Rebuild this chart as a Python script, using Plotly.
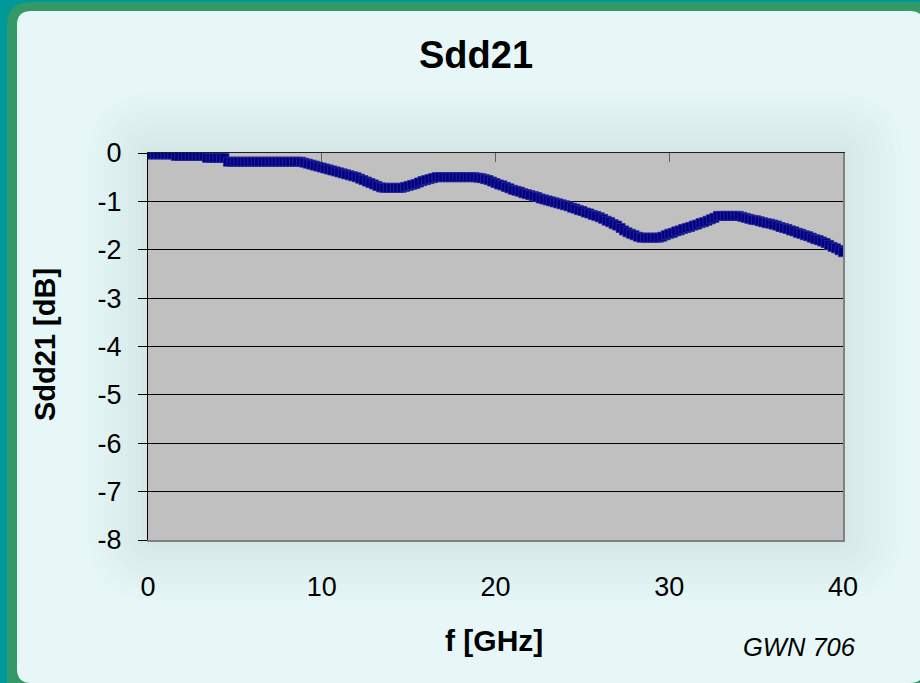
import plotly.graph_objects as go

# ---------------- data ----------------
freq_ghz = [
    0.0, 0.2, 0.4, 0.6, 0.8, 1.0, 1.2, 1.4, 1.6, 1.8,
    2.0, 2.2, 2.4, 2.6, 2.8, 3.0, 3.2, 3.4, 3.6, 3.8,
    4.0, 4.2, 4.4, 4.6, 4.8, 5.0, 5.2, 5.4, 5.6, 5.8,
    6.0, 6.2, 6.4, 6.6, 6.8, 7.0, 7.2, 7.4, 7.6, 7.8,
    8.0, 8.2, 8.4, 8.6, 8.8, 9.0, 9.2, 9.4, 9.6, 9.8,
    10.0, 10.2, 10.4, 10.6, 10.8, 11.0, 11.2, 11.4, 11.6, 11.8,
    12.0, 12.2, 12.4, 12.6, 12.8, 13.0, 13.2, 13.4, 13.6, 13.8,
    14.0, 14.2, 14.4, 14.6, 14.8, 15.0, 15.2, 15.4, 15.6, 15.8,
    16.0, 16.2, 16.4, 16.6, 16.8, 17.0, 17.2, 17.4, 17.6, 17.8,
    18.0, 18.2, 18.4, 18.6, 18.8, 19.0, 19.2, 19.4, 19.6, 19.8,
    20.0, 20.2, 20.4, 20.6, 20.8, 21.0, 21.2, 21.4, 21.6, 21.8,
    22.0, 22.2, 22.4, 22.6, 22.8, 23.0, 23.2, 23.4, 23.6, 23.8,
    24.0, 24.2, 24.4, 24.6, 24.8, 25.0, 25.2, 25.4, 25.6, 25.8,
    26.0, 26.2, 26.4, 26.6, 26.8, 27.0, 27.2, 27.4, 27.6, 27.8,
    28.0, 28.2, 28.4, 28.6, 28.8, 29.0, 29.2, 29.4, 29.6, 29.8,
    30.0, 30.2, 30.4, 30.6, 30.8, 31.0, 31.2, 31.4, 31.6, 31.8,
    32.0, 32.2, 32.4, 32.6, 32.8, 33.0, 33.2, 33.4, 33.6, 33.8,
    34.0, 34.2, 34.4, 34.6, 34.8, 35.0, 35.2, 35.4, 35.6, 35.8,
    36.0, 36.2, 36.4, 36.6, 36.8, 37.0, 37.2, 37.4, 37.6, 37.8,
    38.0, 38.2, 38.4, 38.6, 38.8, 39.0, 39.2, 39.4, 39.6, 39.8,
    40.0,
]

sdd21_db = [
    -0.03, -0.03, -0.03, -0.03, -0.03, -0.03, -0.03, -0.03, -0.06, -0.06,
    -0.06, -0.06, -0.06, -0.06, -0.06, -0.06, -0.06, -0.10, -0.10, -0.10,
    -0.10, -0.10, -0.10, -0.18, -0.18, -0.18, -0.18, -0.18, -0.18, -0.18,
    -0.18, -0.18, -0.18, -0.18, -0.18, -0.18, -0.18, -0.18, -0.18, -0.18,
    -0.18, -0.18, -0.18, -0.18, -0.18, -0.20, -0.22, -0.24, -0.26, -0.28,
    -0.30, -0.32, -0.34, -0.36, -0.38, -0.40, -0.42, -0.44, -0.46, -0.48,
    -0.50, -0.53, -0.56, -0.59, -0.62, -0.65, -0.68, -0.71, -0.72, -0.72,
    -0.72, -0.72, -0.72, -0.72, -0.70, -0.68, -0.66, -0.64, -0.61, -0.58,
    -0.56, -0.54, -0.52, -0.50, -0.50, -0.50, -0.50, -0.50, -0.50, -0.50,
    -0.50, -0.50, -0.50, -0.50, -0.50, -0.51, -0.52, -0.54, -0.56, -0.59,
    -0.62, -0.65, -0.67, -0.70, -0.73, -0.76, -0.78, -0.80, -0.83, -0.85,
    -0.87, -0.89, -0.91, -0.94, -0.96, -0.98, -1.00, -1.02, -1.04, -1.06,
    -1.08, -1.10, -1.13, -1.15, -1.18, -1.20, -1.23, -1.25, -1.28, -1.30,
    -1.33, -1.36, -1.40, -1.43, -1.47, -1.50, -1.55, -1.60, -1.64, -1.67,
    -1.70, -1.73, -1.75, -1.75, -1.75, -1.75, -1.75, -1.75, -1.73, -1.70,
    -1.67, -1.65, -1.62, -1.60, -1.57, -1.55, -1.53, -1.50, -1.48, -1.45,
    -1.43, -1.40, -1.37, -1.34, -1.30, -1.30, -1.30, -1.30, -1.30, -1.30,
    -1.30, -1.32, -1.34, -1.36, -1.38, -1.39, -1.41, -1.43, -1.45, -1.46,
    -1.48, -1.50, -1.53, -1.55, -1.57, -1.60, -1.62, -1.65, -1.67, -1.70,
    -1.72, -1.75, -1.78, -1.80, -1.83, -1.86, -1.90, -1.94, -1.97, -2.01,
    -2.05,
]

x_ticks = [0, 10, 20, 30, 40]
x_tick_labels = ["0", "10", "20", "30", "40"]
y_ticks = [0, -1, -2, -3, -4, -5, -6, -7, -8]
y_tick_labels = ["0", "-1", "-2", "-3", "-4", "-5", "-6", "-7", "-8"]

chart_title = "Sdd21"
x_title = "f [GHz]"
y_title = "Sdd21 [dB]"
note_text = "GWN 706"

assert len(freq_ghz) == len(sdd21_db)

# ---------------- layout geometry ----------------
W, H = 920, 683
L, R, T, B = 148, 77, 153, 143
PW, PH = W - L - R, H - T - B
FONT = "Liberation Sans, Arial, sans-serif"


def to_anchor(px, py):
    # canvas pixel -> offset from plot-area bottom-left (pixel mode, y up)
    return px - L, (H - B) - py


def rounded_rect_path(x0, y0, x1, y1, r):
    def p(x, y):
        ax, ay = to_anchor(x, y)
        return f"{ax:.2f},{ay:.2f}"
    pts = [
        f"M {p(x0 + r, y0)}",
        f"L {p(x1 - r, y0)}",
        f"Q {p(x1, y0)} {p(x1, y0 + r)}",
        f"L {p(x1, y1 - r)}",
        f"Q {p(x1, y1)} {p(x1 - r, y1)}",
        f"L {p(x0 + r, y1)}",
        f"Q {p(x0, y1)} {p(x0, y1 - r)}",
        f"L {p(x0, y0 + r)}",
        f"Q {p(x0, y0)} {p(x0 + r, y0)}",
        "Z",
    ]
    return " ".join(pts)


def pix_shape(path, color):
    return dict(type="path", xref="paper", yref="paper",
                xsizemode="pixel", ysizemode="pixel", xanchor=0, yanchor=0,
                path=path, fillcolor=color, line=dict(width=0), layer="below")


shapes = []
# green frame
shapes.append(pix_shape(rounded_rect_path(7, 2, 960, 720, 24), "#339966"))
# light inner panel
shapes.append(pix_shape(rounded_rect_path(17, 11, 924, 683, 14), "#e7f7f7"))
# soft glow around the plot area
for pad in [60, 52, 44, 36, 28, 20, 12, 6]:
    shapes.append(pix_shape(
        rounded_rect_path(L - pad, T - pad, W - R + pad, H - B + pad, pad + 10),
        "rgba(160,205,205,0.035)"))
# gray plot area
shapes.append(dict(type="rect", xref="paper", yref="paper", x0=0, x1=1, y0=0, y1=1,
                   fillcolor="#c0c0c0", line=dict(width=0), layer="below"))

fig = go.Figure()

fig.add_trace(go.Scatter(
    x=freq_ghz, y=sdd21_db, mode="markers",
    marker=dict(symbol="square", size=9, color="#000080",
                line=dict(color="#2a2a9c", width=0.8)),
    hoverinfo="x+y", showlegend=False,
))

# helper trace on the mirror axes (invisible) so top/right frame axes render
fig.add_trace(go.Scatter(
    x=freq_ghz, y=sdd21_db, mode="markers", xaxis="x2", yaxis="y2",
    marker=dict(opacity=0), hoverinfo="skip", showlegend=False,
))

fig.update_layout(
    width=W, height=H, autosize=False,
    margin=dict(l=L, r=R, t=T, b=B, pad=0),
    paper_bgcolor="#009999",
    plot_bgcolor="rgba(0,0,0,0)",
    font=dict(family=FONT, color="black"),
    shapes=shapes,
    showlegend=False,
    xaxis=dict(
        range=[0, 40], tickvals=x_ticks, ticktext=x_tick_labels,
        showgrid=False, zeroline=False,
        showline=True, linecolor="#808080", linewidth=2,
        ticks="", tickfont=dict(size=27, family=FONT, color="black"),
        ticklabelstandoff=22,
    ),
    yaxis=dict(
        range=[-8, 0], tickvals=y_ticks, ticktext=y_tick_labels,
        showgrid=True, gridcolor="black", gridwidth=1,
        zeroline=False, showline=True, linecolor="black", linewidth=1,
        ticks="outside", ticklen=9, tickcolor="black", tickwidth=1,
        tickfont=dict(size=27, family=FONT, color="black"),
        ticklabelstandoff=11,
    ),
    xaxis2=dict(
        overlaying="x", side="top", anchor="y2", range=[0, 40],
        tickvals=x_ticks, showticklabels=False, showgrid=False, zeroline=False,
        showline=True, linecolor="#202020", linewidth=1,
        ticks="inside", ticklen=9, tickcolor="#606060", tickwidth=1,
    ),
    yaxis2=dict(
        overlaying="y", side="right", anchor="x2", range=[-8, 0],
        showticklabels=False, showgrid=False, zeroline=False,
        showline=True, linecolor="#808080", linewidth=2, ticks="",
    ),
    annotations=[
        dict(text=f"<b>{chart_title}</b>", xref="paper", yref="paper",
             x=(476 - L) / PW, y=((H - B) - 55) / PH, xanchor="center", yanchor="middle",
             showarrow=False, font=dict(size=38, family=FONT, color="black")),
        dict(text=f"<b>{x_title}</b>", xref="paper", yref="paper",
             x=(494 - L) / PW, y=((H - B) - 640) / PH, xanchor="center", yanchor="middle",
             showarrow=False, font=dict(size=30, family=FONT, color="black")),
        dict(text=f"<b>{y_title}</b>", xref="paper", yref="paper", textangle=-90,
             x=(45 - L) / PW, y=((H - B) - 345) / PH, xanchor="center", yanchor="middle",
             showarrow=False, font=dict(size=29, family=FONT, color="black")),
        dict(text=f"<i>{note_text}</i>", xref="paper", yref="paper",
             x=(799 - L) / PW, y=((H - B) - 647) / PH, xanchor="center", yanchor="middle",
             showarrow=False, font=dict(size=25.5, family=FONT, color="black")),
    ],
)

fig.write_html("out.html", config={"displayModeBar": False},
               post_script="document.body.style.margin='0';")
